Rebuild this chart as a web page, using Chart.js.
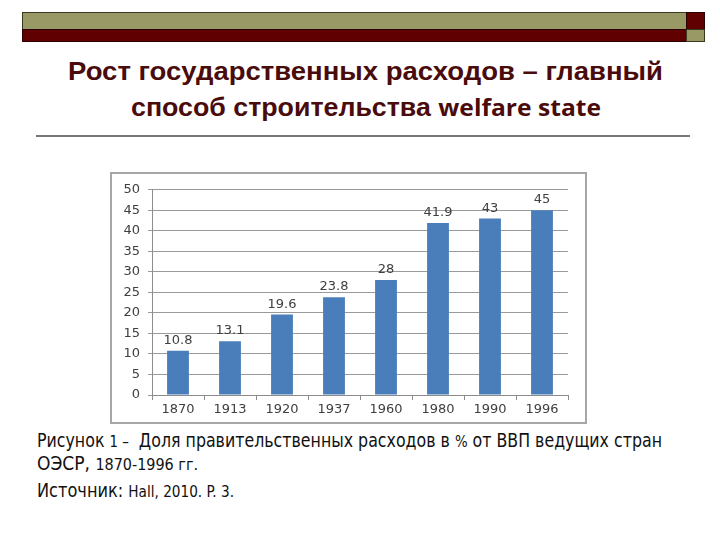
<!DOCTYPE html>
<html>
<head>
<meta charset="utf-8">
<script src="https://cdn.jsdelivr.net/npm/chart.js@4/dist/chart.umd.min.js"></script>
<style>
  html, body { margin:0; padding:0; background:#fff; }
  body { width:720px; height:540px; position:relative; overflow:hidden; }
  .abs { position:absolute; }
  .olive { background:#999966; border:1px solid #3a3a20; box-sizing:border-box; }
  .red { background:#600000; border:1px solid #2a0000; box-sizing:border-box; }
  .t { position:absolute; white-space:nowrap; color:#4a0b0b; font-weight:bold; transform-origin:0 0; }
  .c { position:absolute; white-space:nowrap; color:#111; transform-origin:0 0;
       font-family:"Liberation Sans Narrow","DejaVu Sans Condensed",sans-serif; }
  #box { position:absolute; left:110px; top:172px; width:477px; height:252px; border:2px solid #a6a6a6; box-sizing:border-box; background:#fff; }
  #box canvas { display:block; }
</style>
</head>
<body>
<div class="abs olive" style="left:22px;top:12px;width:665px;height:18px"></div>
<div class="abs red" style="left:22px;top:29px;width:665px;height:13px"></div>
<div class="abs red" style="left:686px;top:12px;width:19px;height:18px"></div>
<div class="abs olive" style="left:686px;top:29px;width:19px;height:13px"></div>

<div class="t" data-w="595" style="left:68px;top:57px;font-family:'Liberation Sans',Arial,sans-serif;font-size:25px">Рост государственных расходов – главный</div>
<div class="t" data-w="470" style="left:131px;top:91px;font-family:'Liberation Sans',Arial,sans-serif;font-size:25px">способ строительства <span style="font-family:'Open Sans',sans-serif;font-size:23px">welfare state</span></div>
<div class="abs" style="left:36px;top:135px;width:654px;height:2px;background:#777"></div>

<div id="box"><canvas id="chart" width="473" height="248"></canvas></div>

<div class="c" data-w="625" style="left:37px;top:429px;font-size:19px">Рисунок <span style="font-size:16px">1 –</span>&nbsp; Доля правительственных расходов в <span style="font-size:16px">%</span> от ВВП ведущих стран</div>
<div class="c" data-w="161" style="left:37px;top:452px;font-size:19px">ОЭСР, <span style="font-size:16px">1870-1996 гг.</span></div>
<div class="c" data-w="197" style="left:37px;top:479px;font-size:19px">Источник: <span style="font-size:16px">Hall, 2010. P. 3.</span></div>

<script>
const categories = ["1870","1913","1920","1937","1960","1980","1990","1996"];
const spending = [10.8, 13.1, 19.6, 23.8, 28, 41.9, 43, 45];
const valueLabels = ["10.8","13.1","19.6","23.8","28","41.9","43","45"];

// fit text lines to their measured widths in the reference
document.querySelectorAll('[data-w]').forEach(el => {
  const w = el.getBoundingClientRect().width;
  const target = parseFloat(el.dataset.w);
  el.style.transform = 'scaleX(' + (target / w) + ')';
});

const labelPlugin = {
  id: 'valueLabels',
  afterDatasetsDraw(chart) {
    const ctx = chart.ctx;
    const meta = chart.getDatasetMeta(0);
    ctx.save();
    ctx.font = '13px "DejaVu Sans", sans-serif';
    ctx.fillStyle = '#404040';
    ctx.textAlign = 'center';
    ctx.textBaseline = 'alphabetic';
    meta.data.forEach((bar, i) => {
      ctx.fillText(valueLabels[i], bar.x, bar.y - 7);
    });
    ctx.restore();
  }
};

new Chart(document.getElementById('chart'), {
  type: 'bar',
  data: {
    labels: categories,
    datasets: [{
      data: spending,
      backgroundColor: '#4a7ebb',
      borderWidth: 0,
      categoryPercentage: 1.0,
      barPercentage: 0.42
    }]
  },
  options: {
    responsive: false,
    animation: false,
    events: [],
    layout: { padding: { top: 14, right: 17, left: 0, bottom: 0 } },
    plugins: { legend: { display: false }, tooltip: { enabled: false } },
    scales: {
      x: {
        afterFit(s) { s.height = 27; },
        grid: { offset: true, drawOnChartArea: false, drawTicks: true, tickLength: 5, color: '#8c8c8c' },
        border: { color: '#8c8c8c', width: 1 },
        ticks: { color: '#404040', font: { family: '"DejaVu Sans", sans-serif', size: 13 }, padding: 2 }
      },
      y: {
        min: 0, max: 50,
        afterFit(s) { s.width = 40; },
        ticks: { stepSize: 5, color: '#404040', font: { family: '"DejaVu Sans", sans-serif', size: 13 }, padding: 8 },
        grid: { color: '#9a9a9a', tickLength: 4, drawTicks: true },
        border: { color: '#8c8c8c', width: 1 }
      }
    }
  },
  plugins: [labelPlugin]
});
</script>
</body>
</html>
